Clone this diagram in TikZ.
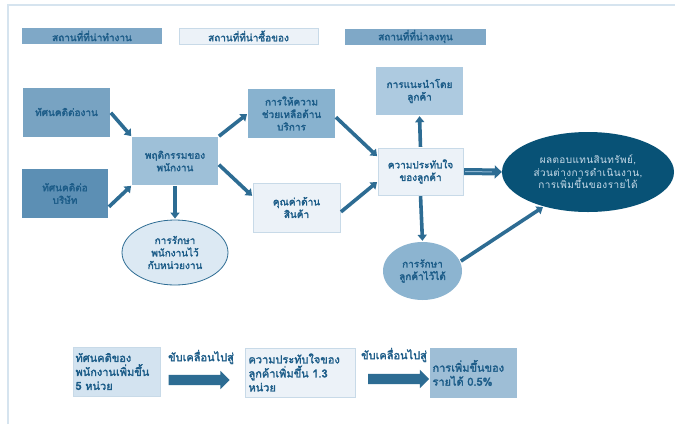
\documentclass[tikz,border=0pt]{standalone}
\usepackage{fontspec}
\newfontfamily\thai[Script=Thai, LetterSpace=4]{Loma}
\newfontfamily\thaibold[Script=Thai, FakeBold=2.2]{Loma}
\usetikzlibrary{arrows.meta,shapes.geometric,shapes.arrows}
\definecolor{framecol}{HTML}{D6E4EF}
\definecolor{txt}{HTML}{1C5C88}
\definecolor{arr}{HTML}{2D6C93}
\definecolor{hdr}{HTML}{7FA8C7}
\definecolor{pale}{HTML}{ECF2F8}
\definecolor{paleline}{HTML}{C8DAE8}
\definecolor{fa}{HTML}{78A3C2}
\definecolor{fb}{HTML}{5C8FB4}
\definecolor{fc}{HTML}{9EC0D8}
\definecolor{fd}{HTML}{88B2CF}
\definecolor{fe}{HTML}{ADCAE0}
\definecolor{ff}{HTML}{DCE9F3}
\definecolor{fg}{HTML}{8CB4D0}
\definecolor{deep}{HTML}{085276}
\definecolor{deeptxt}{HTML}{C9DCEA}
\definecolor{fp}{HTML}{D3E3F0}
\definecolor{fq}{HTML}{9EBED6}
\tikzset{
  base/.style={font=\thaibold\fontsize{10}{12.5}\selectfont, text=txt, align=center, inner sep=2pt},
  big/.style={font=\thaibold\fontsize{11}{14}\selectfont},
  hdrbox/.style={base, rectangle, minimum height=16pt, inner ysep=1pt},
  box/.style={base, rectangle, minimum width=87pt, minimum height=49pt},
  oval/.style={base, ellipse, inner sep=0pt},
  conn/.style={draw=arr, line width=3.6pt, -{Triangle[length=6pt,width=9pt]}, shorten <=1pt, shorten >=1pt},
  fatarrow/.style={single arrow, fill=arr, draw=none, minimum height=61pt, inner xsep=0pt, inner ysep=5pt, single arrow head extend=4pt},
  drive/.style={base, big},
}
\begin{document}
\begin{tikzpicture}[x=1pt,y=-1pt]
\useasboundingbox (0,0) rectangle (675,424);
\fill[white] (0,0) rectangle (675,424);
% page frame
\draw[framecol, line width=1.3pt] (8,424) -- (8,5) -- (675,5);

% headings
\node[hdrbox, fill=hdr, minimum width=140pt] (h1) at (92,36) {สถานที่ที่น่าทำงาน};
\node[hdrbox, fill=pale, draw=paleline, minimum width=139pt] (h2) at (248.5,36) {สถานที่ที่น่าซื้อของ};
\node[hdrbox, fill=hdr, minimum width=141pt] (h3) at (415.5,36.5) {สถานที่ที่น่าลงทุน};

% chain of nodes
\node[box, fill=fa] (a1) at (66.5,112) {ทัศนคติต่องาน};
\node[box, fill=fb, minimum width=86pt] (a2) at (65,193.5) {ทัศนคติต่อ\\บริษัท};
\node[box, fill=fc, minimum width=86pt, minimum height=48pt] (b) at (175,161) {พฤติกรรมของ\\พนักงาน};
\node[box, fill=fd] (c1) at (291.5,113.5) {การให้ความ\\ช่วยเหลือด้าน\\บริการ};
\node[box, fill=pale, draw=paleline] (c2) at (296.5,207.5) {คุณค่าด้าน\\สินค้า};
\node[oval, fill=ff, draw=arr, line width=0.8pt, minimum width=106pt, minimum height=65pt] (e1) at (175,252.5) {การรักษา\\พนักงานไว้\\กับหน่วยงาน};
\node[box, fill=fe, minimum height=48pt] (d) at (419.5,91) {การแนะนำโดย\\ลูกค้า};
\node[box, fill=pale, draw=paleline, minimum width=85pt, minimum height=47pt] (f) at (420.5,171.5) {ความประทับใจ\\ของลูกค้า};
\node[oval, fill=deep, minimum width=172pt, minimum height=80pt, text=deeptxt, font=\thai\fontsize{10}{12.5}\selectfont] (g) at (588,172) {ผลตอบแทนสินทรัพย์,\\ส่วนต่างการดำเนินงาน,\\การเพิ่มขึ้นของรายได้};
\node[oval, fill=fg, minimum width=79pt, minimum height=58pt] (e2) at (422.5,271) {การรักษา\\ลูกค้าไว้ได้};

% connectors
\draw[conn] (a1.east) -- (b.north west);
\draw[conn] ([yshift=-14pt]a2.east) -- (b.south west);
\draw[conn] (b.north east) -- (c1.west);
\draw[conn] ([yshift=-3pt]b.east) -- ([yshift=11pt]c2.west);
\draw[conn] (b.south) -- (e1.north);
\draw[conn] ([yshift=-3pt]c1.east) -- ([yshift=-9pt]f.north west);
\draw[conn] ([yshift=-5pt]c2.east) -- ([yshift=-10pt]f.west);
\draw[conn] (f.north) -- (d.south);
\draw[conn] (f.south) -- (e2.north);
\draw[conn] (e2.14) -- (g.218);
\draw[draw=arr, line width=7pt, -{Triangle[length=7pt,width=13pt]}, shorten <=1pt] (f.east) -- (g.west);
\draw[draw=fg, line width=1pt, shorten <=2pt, shorten >=10pt] (f.east) -- (g.west);

% bottom row
\node[box, big, fill=fp, draw=paleline, align=left, text width=82pt] (p1) at (116.5,371.5) {ทัศนคติของ\\พนักงานเพิ่มขึ้น\\5 หน่วย};
\node[drive] (l1) at (201,357) {ขับเคลื่อนไปสู่};
\node[fatarrow] (r1) at (196.5,380) {};
\node[box, big, fill=pale, draw=paleline, minimum width=110pt, align=left, text width=103pt] (p2) at (300,372.5) {ความประทับใจของ\\ลูกค้าเพิ่มขึ้น 1.3\\หน่วย};
\node[drive] (l2) at (394,355) {ขับเคลื่อนไปสู่};
\node[fatarrow] (r2) at (396,379) {};
\node[box, big, fill=fq, minimum height=50pt, align=left, text width=82pt] (p3) at (473.5,373) {การเพิ่มขึ้นของ\\รายได้ 0.5\%};
\end{tikzpicture}
\end{document}
